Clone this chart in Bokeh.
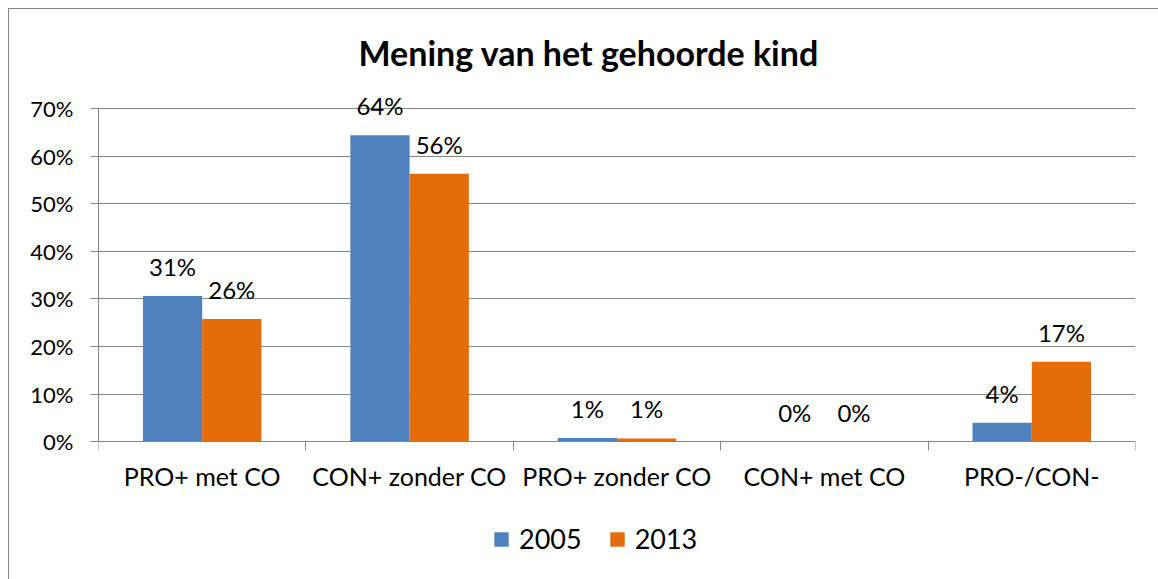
from bokeh.plotting import figure
from bokeh.models import (ColumnDataSource, Range1d, FixedTicker, LabelSet, Legend, LegendItem)
from bokeh.core.properties import value
from bokeh.embed import file_html
from bokeh.resources import INLINE

categories = ["PRO+ met CO", "CON+ zonder CO", "PRO+ zonder CO", "CON+ met CO", "PRO-/CON-"]
series_names = ["2005", "2013"]
values_2005 = [30.6, 64.4, 0.8, 0.0, 4.0]
values_2013 = [25.8, 56.3, 0.7, 0.0, 16.8]
y_ticks = [0, 10, 20, 30, 40, 50, 60, 70]

BLUE = "#4F81BD"
ORANGE = "#E46C0A"
GRID = "#868686"
FONT = "Lato"

bar_w = 1 / 3.5  # Excel gap width 150%
idx = list(range(len(categories)))
x_2005 = [i + 0.5 - bar_w / 2 for i in idx]
x_2013 = [i + 0.5 + bar_w / 2 for i in idx]

src05 = ColumnDataSource(dict(x=x_2005, top=[v / 100 for v in values_2005],
                              lab=["{:.0f}%".format(v) for v in values_2005]))
src13 = ColumnDataSource(dict(x=x_2013, top=[v / 100 for v in values_2013],
                              lab=["{:.0f}%".format(v) for v in values_2013]))

ymax = y_ticks[-1] / 100
p = figure(width=1150, height=571, output_backend="svg", toolbar_location=None,
           x_range=Range1d(0, len(categories)), y_range=Range1d(-0.26, ymax + 0.04),
           min_border_left=89, min_border_right=24, min_border_top=80, min_border_bottom=15)
p.margin = (8, 0, 0, 8)
p.styles = {"border-left": "1px solid #868686", "border-top": "1px solid #868686"}
p.outline_line_color = None
p.background_fill_color = "white"
p.border_fill_color = "white"

p.title.text = "Mening van het gehoorde kind"
p.title.align = "left"
p.title.text_font = FONT
p.title.text_font_size = "34px"
p.title.text_font_style = "bold"
p.title.text_color = "black"
p.title.offset = 260
p.title.standoff = 34

r05 = p.vbar(x="x", top="top", width=bar_w, source=src05, fill_color=BLUE, line_color=None)
r13 = p.vbar(x="x", top="top", width=bar_w, source=src13, fill_color=ORANGE, line_color=None)

for src in (src05, src13):
    ls = LabelSet(x="x", y="top", text="lab", source=src, text_align="center",
                  text_baseline="alphabetic", y_offset=20, text_font=value(FONT),
                  text_font_size=value("24px"), text_color="black")
    p.add_layout(ls)

# y axis
p.yaxis.ticker = FixedTicker(ticks=[t / 100 for t in y_ticks])
p.yaxis.bounds = (0, ymax)
p.yaxis.major_label_overrides = {t / 100: "{}%".format(t) for t in y_ticks}
p.yaxis.axis_line_color = GRID
p.yaxis.major_tick_line_color = GRID
p.yaxis.major_tick_out = 8
p.yaxis.major_tick_in = 0
p.yaxis.minor_tick_line_color = None
p.yaxis.major_label_standoff = 17
p.yaxis.major_label_text_font = FONT
p.yaxis.major_label_text_font_size = "22px"
p.yaxis.major_label_text_color = "black"

# x axis, fixed at y = 0
p.xaxis.fixed_location = 0
p.xaxis.ticker = FixedTicker(ticks=[i + 0.5 for i in idx], minor_ticks=list(range(len(categories) + 1)))
p.xaxis.major_label_overrides = {i + 0.5: c for i, c in zip(idx, categories)}
p.xaxis.axis_line_color = GRID
p.xaxis.major_tick_line_color = None
p.xaxis.major_tick_out = 0
p.xaxis.major_tick_in = 0
p.xaxis.minor_tick_line_color = GRID
p.xaxis.minor_tick_out = 9
p.xaxis.minor_tick_in = 0
p.xaxis.major_label_standoff = 10
p.xaxis.major_label_text_font = FONT
p.xaxis.major_label_text_font_size = "25px"
p.xaxis.major_label_text_color = "black"

p.xgrid.grid_line_color = None
p.ygrid.grid_line_color = GRID
p.ygrid.ticker = FixedTicker(ticks=[t / 100 for t in y_ticks])

legend = Legend(items=[LegendItem(label=series_names[0], renderers=[r05]),
                       LegendItem(label=series_names[1], renderers=[r13])],
                orientation="horizontal", location=(394, 10),
                label_text_font=FONT, label_text_font_size="27px", label_text_color="black",
                glyph_width=18, glyph_height=18, spacing=26, label_standoff=9,
                border_line_color=None, background_fill_alpha=0, padding=0, margin=0)
p.add_layout(legend, "center")

open("out.html", "w").write(file_html(p, INLINE))
